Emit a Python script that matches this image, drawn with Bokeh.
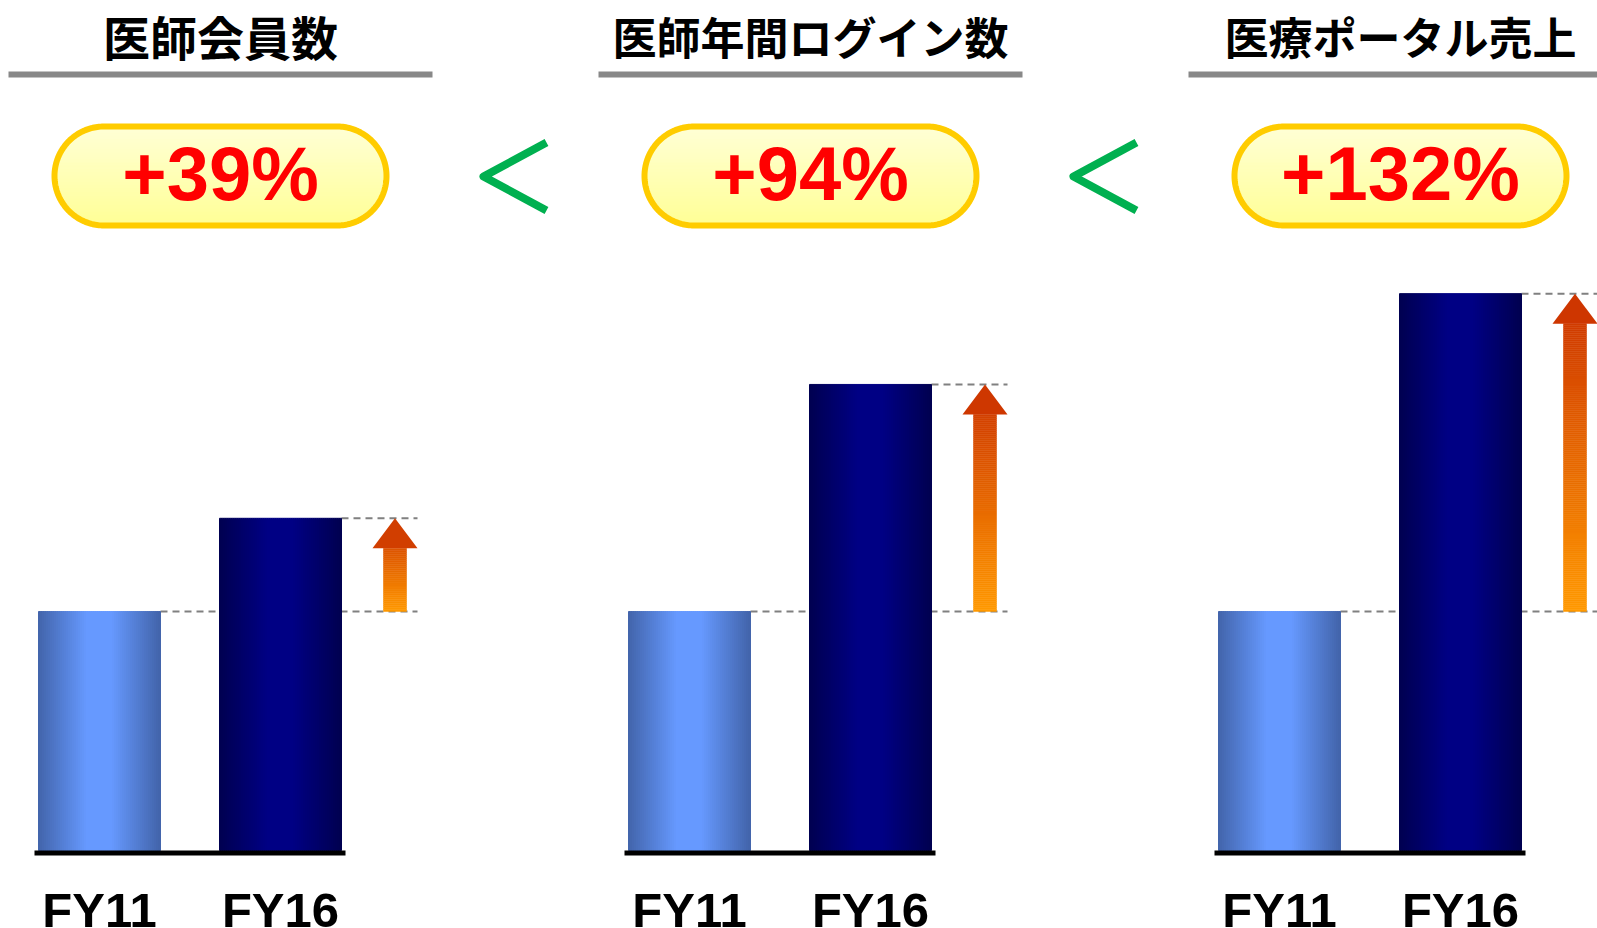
import numpy as np
from bokeh.plotting import figure
from bokeh.models import Range1d
from bokeh.core.properties import value
from bokeh.embed import file_html
from bokeh.resources import INLINE

# ---------------- data ----------------
panel_titles = ["医師会員数", "医師年間ログイン数", "医療ポータル売上"]
years = ["FY11", "FY16"]
fy11 = [100, 100, 100]          # FY11 indexed to 100
fy16 = [139, 195, 233]          # FY16 relative to FY11
growth_labels = ["+39%", "+94%", "+132%"]

# ---------------- layout (page pixels) ----------------
W, H = 1597, 928
BASE_Y = 850          # page y of value 0
UNIT_PX = 2.39        # pixels per data unit
PANEL_STEP = 590
BAR_LEFT = [38, 219]
BAR_W = 122
STRIP = 2
ARROW_CX = 394.5
SHAFT_W = 23
HEAD_W = 45
HEAD_H = 30
DASH_END = 417
TITLE_CX = 220
TITLE_FS = ["47px", "44px", "44px"]

y_top = BASE_Y / UNIT_PX
y_bot = -(H - BASE_Y) / UNIT_PX


def X(px):
    return px


def Y(py):
    return (BASE_Y - py) / UNIT_PX


def DY(d):
    return d / UNIT_PX


def mix(c0, c1, t):
    return "#%02x%02x%02x" % tuple(int(round(a + (b - a) * t)) for a, b in zip(c0, c1))


p = figure(width=W, height=H, x_range=Range1d(0, W), y_range=Range1d(y_bot, y_top),
           output_backend="svg", toolbar_location=None, min_border=0,
           x_axis_type=None, y_axis_type=None)
p.grid.visible = False
p.outline_line_color = None
p.background_fill_color = "white"
p.border_fill_color = "white"

BAR_COLORS = [((66, 100, 170), (102, 153, 255)), ((0, 0, 80), (0, 0, 132))]
ARROW_BOTTOM = (255, 153, 0)
ARROW_TOP = (204, 51, 0)

for i in range(3):
    off = i * PANEL_STEP
    vals = [fy11[i], fy16[i]]

    # title + underline
    p.text(x=[X(off + TITLE_CX)], y=[Y(35)], text=[panel_titles[i]],
           text_font=value("Noto Sans CJK JP"), text_font_style="bold",
           text_font_size=TITLE_FS[i], text_color="black",
           text_align="center", text_baseline="middle")
    p.segment(x0=[X(off + 8)], y0=[Y(74)], x1=[X(off + 432)], y1=[Y(74)],
              line_color="#888888", line_width=6)

    # pill with gradient
    cx, cy, pw, ph = off + 220, 175.5, 332, 99
    r = ph / 2
    nb = 30
    edges = np.linspace(-ph / 2, ph / 2, nb + 1)
    xs_b, ys_b, cols = [], [], []
    for k in range(nb):
        yy = np.linspace(edges[k], edges[k + 1], 6)
        hx = (pw / 2 - r) + np.sqrt(np.clip(r * r - yy * yy, 0, None))
        px_ = np.concatenate([cx + hx, (cx - hx)[::-1]])
        py_ = np.concatenate([cy + yy, (cy + yy)[::-1]])
        xs_b.append(list(X(px_)))
        ys_b.append(list(Y(py_)))
        cols.append(mix((255, 255, 214), (255, 255, 150), (k + 0.5) / nb))
    p.patches(xs=xs_b, ys=ys_b, fill_color=cols, line_color=cols, line_width=1)
    th = np.linspace(0, 2 * np.pi, 200)
    ox, oy = [], []
    for t in th:
        if np.cos(t) >= 0:
            ox.append(cx + (pw / 2 - r) + r * np.cos(t))
        else:
            ox.append(cx - (pw / 2 - r) + r * np.cos(t))
        oy.append(cy + r * np.sin(t))
    p.patch(x=list(X(np.array(ox))), y=list(Y(np.array(oy))), fill_alpha=0,
            line_color="#FFCC00", line_width=6)
    p.text(x=[X(cx)], y=[Y(173)], text=[growth_labels[i]],
           text_font=value("Liberation Sans"), text_font_style="bold",
           text_font_size="76px", text_color="#FF0000",
           text_align="center", text_baseline="middle")

    # dashed reference lines
    p.segment(x0=[X(off + BAR_LEFT[0] + BAR_W), X(off + BAR_LEFT[1] + BAR_W)],
              y0=vals, x1=[X(off + DASH_END)] * 2, y1=vals,
              line_color="#808080", line_width=2, line_dash="7 5")

    # bars with horizontal gradient
    for j in range(2):
        left = X(off + BAR_LEFT[j])
        n = BAR_W // STRIP
        lefts = left + np.arange(n) * STRIP
        rights = lefts + STRIP
        t = (np.arange(n) + 0.5) / n
        f = np.clip((1 - np.abs(2 * t - 1)) / 0.8, 0, 1)
        ce, cm = BAR_COLORS[j]
        cs = [mix(ce, cm, ff) for ff in f]
        p.quad(left=lefts, right=rights, bottom=0, top=vals[j],
               fill_color=cs, line_color=cs, line_width=1)

    # baseline
    p.segment(x0=[X(off + 34)], y0=[Y(852.5)], x1=[X(off + 345)], y1=[Y(852.5)],
              line_color="black", line_width=5)

    # growth arrow with vertical gradient
    v0, v1 = vals
    vh = v1 - DY(HEAD_H)
    ns = max(int((vh - v0) * UNIT_PX / 2), 1)
    sb = np.linspace(v0, vh, ns + 1)
    tt = ((sb[:-1] + sb[1:]) / 2 - v0) / (v1 - v0)
    scol = [mix(ARROW_BOTTOM, ARROW_TOP, x) for x in tt]
    acx = X(off + ARROW_CX)
    p.quad(left=acx - SHAFT_W / 2, right=acx + SHAFT_W / 2, bottom=sb[:-1], top=sb[1:],
           fill_color=scol, line_color=scol, line_width=0.5)
    th_ = 1 - DY(HEAD_H) / (v1 - v0) / 3
    p.patch(x=[acx - HEAD_W / 2, acx + HEAD_W / 2, acx], y=[vh, vh, v1],
            fill_color=mix(ARROW_BOTTOM, ARROW_TOP, th_), line_color=None)

    # FY labels
    p.text(x=[X(off + BAR_LEFT[j] + BAR_W / 2) for j in range(2)], y=[Y(909)] * 2,
           text=years, text_font=value("Liberation Sans"), text_font_style="bold",
           text_font_size="49px", text_color="black",
           text_align="center", text_baseline="middle")

# green "<" between panels
for g in range(2):
    off = g * PANEL_STEP
    p.line(x=[X(off + 546), X(off + 483), X(off + 546)], y=[Y(142), Y(176), Y(210)],
           line_color="#00B050", line_width=8, line_join="round", line_cap="butt")

open("out.html", "w").write(file_html(p, INLINE))
